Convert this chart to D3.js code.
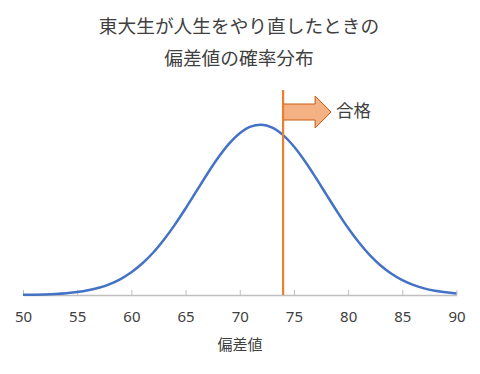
<!DOCTYPE html>
<html>
<head>
<meta charset="utf-8">
<script src="https://cdn.jsdelivr.net/npm/d3@7"></script>
<style>
  body { margin: 0; background: #fff; }
  text { font-family: "Noto Sans CJK JP", "Noto Sans", sans-serif; fill: #404040; }
</style>
</head>
<body>
<div id="chart"></div>
<script>
// 偏差値 (x) と確率密度 (y)
var hensachi = [50, 51, 52, 53, 54, 55, 56, 57, 58, 59, 60, 61, 62, 63, 64, 65, 66, 67, 68, 69, 70,
  71, 72, 73, 74, 75, 76, 77, 78, 79, 80, 81, 82, 83, 84, 85, 86, 87, 88, 89, 90];
var density = [0.00007, 0.00014, 0.00024, 0.00042, 0.00071, 0.00116, 0.00185, 0.00286, 0.00431, 0.00631,
  0.00899, 0.01243, 0.01669, 0.02182, 0.02770, 0.03419, 0.04101, 0.04782, 0.05419, 0.05969, 0.06391,
  0.06650, 0.06726, 0.06612, 0.06318, 0.05868, 0.05297, 0.04648, 0.03963, 0.03285, 0.02646,
  0.02073, 0.01577, 0.01167, 0.00839, 0.00586, 0.00398, 0.00263, 0.00169, 0.00105, 0.00064];
var xTicks = [50, 55, 60, 65, 70, 75, 80, 85, 90];
var passLine = 74;
var titleLines = ["東大生が人生をやり直したときの", "偏差値の確率分布"];
var xLabel = "偏差値";
var legendLabel = "合格";

var width = 480, height = 374;

var svg = d3.select("#chart").append("svg")
  .attr("width", width)
  .attr("height", height);

var x = d3.scaleLinear().domain([50, 90]).range([23, 456.5]);
var y = d3.scaleLinear().domain([0, 0.081]).range([295, 90]);

// タイトル
svg.selectAll(".title")
  .data(titleLines)
  .enter().append("text")
  .attr("class", "title")
  .attr("x", 239)
  .attr("y", function (d, i) { return 26 + i * 32.5; })
  .attr("dy", "0.35em")
  .attr("text-anchor", "middle")
  .style("font-size", "18.7px")
  .text(function (d) { return d; });

// x軸
var xAxis = d3.axisBottom(x)
  .tickValues(xTicks)
  .tickSizeInner(-5)
  .tickSizeOuter(0)
  .tickPadding(16);

var gx = svg.append("g")
  .attr("transform", "translate(0," + y(0) + ")")
  .call(xAxis);
gx.select(".domain").attr("stroke", "#bfbfbf").attr("stroke-width", 1.3);
gx.selectAll(".tick line").attr("stroke", "#bfbfbf").attr("stroke-width", 1);
gx.selectAll(".tick text")
  .style("font-size", "15px")
  .style("font-family", "'Noto Sans', sans-serif")
  .attr("fill", "#404040");

svg.append("text")
  .attr("x", 240)
  .attr("y", 345)
  .attr("dy", "0.35em")
  .attr("text-anchor", "middle")
  .style("font-size", "15px")
  .text(xLabel);

// 分布曲線
var points = hensachi.map(function (d, i) { return [d, density[i]]; });
var line = d3.line()
  .x(function (d) { return x(d[0]); })
  .y(function (d) { return y(d[1]); })
  .curve(d3.curveCatmullRom);

svg.append("path")
  .datum(points)
  .attr("fill", "none")
  .attr("stroke", "#4472c4")
  .attr("stroke-width", 2.5)
  .attr("d", line);

// 合格ライン
var px = x(passLine);
svg.append("line")
  .attr("x1", px).attr("x2", px)
  .attr("y1", y.range()[1]).attr("y2", y(0))
  .attr("stroke", "#ed7d31")
  .attr("stroke-width", 2.2);

// 矢印
var ay = 112;
var arrow = d3.path();
arrow.moveTo(px, ay - 8);
arrow.lineTo(px + 32, ay - 8);
arrow.lineTo(px + 32, ay - 16);
arrow.lineTo(px + 48, ay);
arrow.lineTo(px + 32, ay + 16);
arrow.lineTo(px + 32, ay + 8);
arrow.lineTo(px, ay + 8);
arrow.closePath();

svg.append("path")
  .attr("d", arrow.toString())
  .attr("fill", "#f4b183")
  .attr("stroke", "#c55a11")
  .attr("stroke-width", 1);

svg.append("line")
  .attr("x1", px).attr("x2", px)
  .attr("y1", ay - 9).attr("y2", ay + 9)
  .attr("stroke", "#ed7d31")
  .attr("stroke-width", 2.2);

svg.append("text")
  .attr("x", px + 53)
  .attr("y", ay - 1)
  .attr("dy", "0.35em")
  .style("font-size", "17.5px")
  .text(legendLabel);
</script>
</body>
</html>
